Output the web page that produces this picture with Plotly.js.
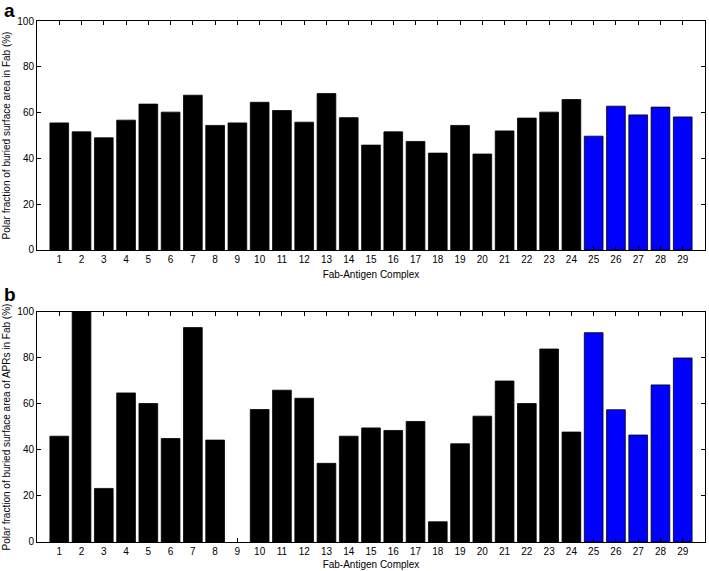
<!DOCTYPE html>
<html>
<head>
<meta charset="utf-8">
<script src="https://cdn.plot.ly/plotly-3.0.1.min.js"></script>
<style>html,body{margin:0;padding:0;background:#fff;}#chart{width:709px;height:571px;}</style>
</head>
<body>
<div id="chart"></div>
<script>
const complexes = [1,2,3,4,5,6,7,8,9,10,11,12,13,14,15,16,17,18,19,20,21,22,23,24,25,26,27,28,29];
const polarFab = [55.5,51.6,49.0,56.7,63.7,60.2,67.6,54.4,55.5,64.5,60.9,55.8,68.3,57.8,45.8,51.6,47.4,42.3,54.4,41.9,52.0,57.6,60.2,65.7,49.7,62.8,59.0,62.4,58.1];
const polarAPR = [46.0,100,23.3,64.8,60.2,45.0,93.2,44.3,0,57.6,66.0,62.5,34.2,46.0,49.6,48.5,52.4,8.8,42.7,54.7,70.0,60.2,83.9,47.8,91.0,57.5,46.5,68.3,80.0];
const blueFrom = 25;
const yTitleA = "Polar fraction of buried surface area in Fab (%)";
const yTitleB = "Polar fraction of buried surface area of APRs in Fab (%)";
const xTitle = "Fab-Antigen Complex";

const colors = complexes.map(c => c >= blueFrom ? '#0000ff' : '#000000');
const font = {family: 'Liberation Sans, Arial, sans-serif', size: 10, color: '#000'};

function bar(y, xa, ya) {
  return {type: 'bar', x: complexes, y: y, xaxis: xa, yaxis: ya, width: 0.84,
    marker: {color: colors, line: {color: '#000', width: y.map(v => v > 0 ? 0.8 : 0)}}, hoverinfo: 'x+y'};
}
function xax(anchor, standoff) {
  return {anchor: anchor, range: [0, 30], tickvals: complexes, ticks: 'inside', ticklen: 4,
    tickcolor: '#000', showline: true, linecolor: '#000', linewidth: 1, mirror: 'ticks',
    showgrid: false, zeroline: false, tickfont: font,
    title: {text: xTitle, font: font, standoff: standoff}};
}
function yax(anchor, domain, t) {
  return {anchor: anchor, domain: domain, range: [0, 100], tickvals: [0,20,40,60,80,100],
    ticks: 'inside', ticklen: 4, tickcolor: '#000', showline: true, linecolor: '#000',
    linewidth: 1, mirror: 'ticks', showgrid: false, zeroline: false, tickfont: font,
    title: {text: t, font: font, standoff: 4}};
}
const letterFont = {family: 'Liberation Sans, Arial, sans-serif', size: 19, color: '#000'};
const layout = {
  width: 709, height: 571, showlegend: false,
  paper_bgcolor: '#fff', plot_bgcolor: '#fff',
  margin: {l: 37, r: 4, t: 21, b: 29},
  font: font,
  xaxis: xax('y', 7), yaxis: yax('x', [0.5605, 1], yTitleA),
  xaxis2: xax('y2', 4), yaxis2: yax('x2', [0, 0.4415], yTitleB),
  annotations: [
    {text: '<b>a</b>', xref: 'paper', yref: 'paper', x: 0, y: 1, xshift: -35, yshift: 23,
     xanchor: 'left', yanchor: 'top', showarrow: false, font: letterFont},
    {text: '<b>b</b>', xref: 'paper', yref: 'paper', x: 0, y: 0.4415, xshift: -35, yshift: 30,
     xanchor: 'left', yanchor: 'top', showarrow: false, font: letterFont}
  ]
};
Plotly.newPlot('chart', [bar(polarFab, 'x', 'y'), bar(polarAPR, 'x2', 'y2')], layout, {displayModeBar: false, staticPlot: true});
</script>
</body>
</html>
